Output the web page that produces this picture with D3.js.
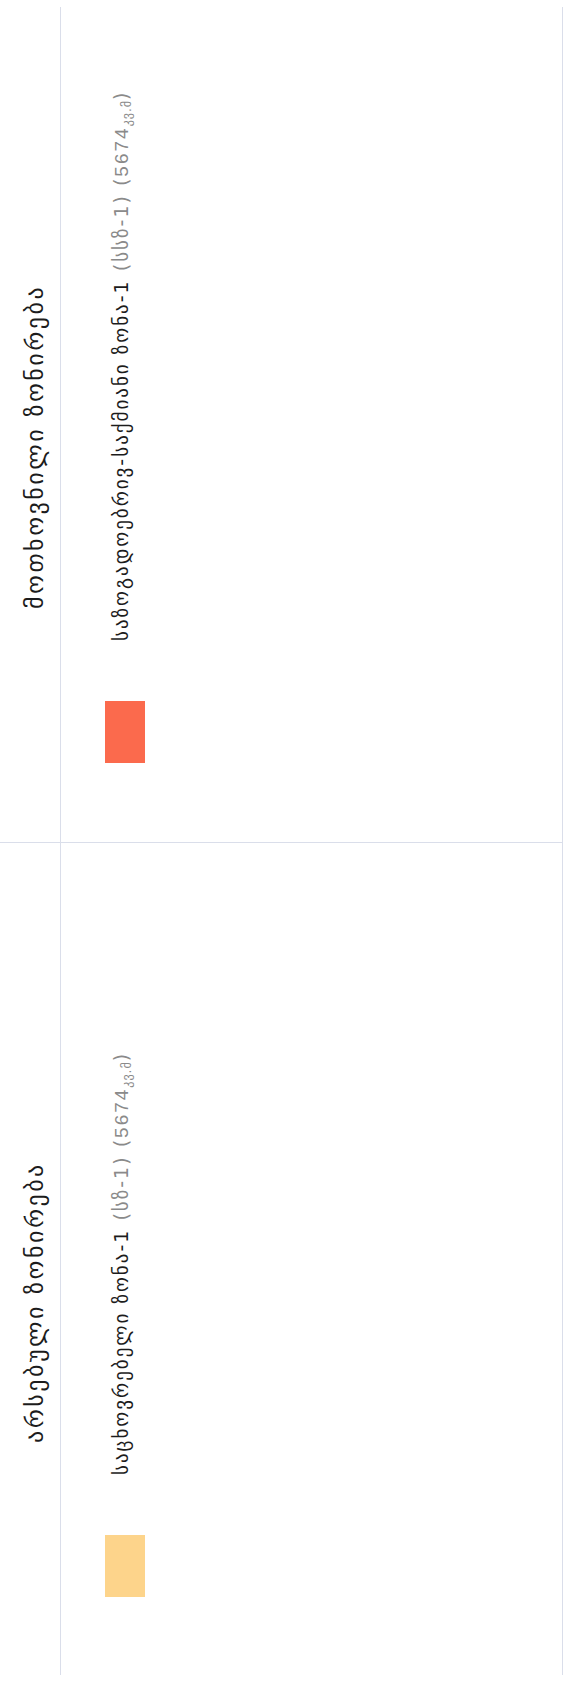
<!DOCTYPE html>
<meta charset="utf-8">
<head>
<script src="https://d3js.org/d3.v7.min.js"></script>
<style>
body { margin: 0; background: #fff; }
.grid { stroke: #dadeea; stroke-width: 1; shape-rendering: crispEdges; }
.head { font: 24px "DejaVu Sans", sans-serif; fill: #1c1c1c; letter-spacing: 2.5px; }
.lab { font: 19px "DejaVu Sans", sans-serif; fill: #1c1c1c; letter-spacing: 2px; }
.note { fill: #8a8a8a; }
.num { font-family: "Liberation Sans", sans-serif; }
</style>
</head>
<body>
<script>

// table content
var headers = ["არსებული ზონირება", "მოთხოვნილი ზონირება"];
var zoneNames = ["საცხოვრებელი ზონა-1", "საზოგადოებრივ-საქმიანი ზონა-1"];
var zoneCodes = ["სზ-1", "სსზ-1"];
var areas = [5674, 5674];
var unit = "კვ.მ";
var colors = ["#fdd48b", "#fb6a4d"];

var width = 568, height = 1681;

var svg = d3.select("body").append("svg")
    .attr("width", width)
    .attr("height", height);

// the sheet is printed on its side, draw it flat and turn it
var g = svg.append("g")
    .attr("transform", "translate(0," + height + ") rotate(-90)");

var col = d3.scaleBand()
    .domain(headers)
    .range([6, 1674]);

var color = d3.scaleOrdinal()
    .domain(headers)
    .range(colors);

var headRow = 60, tableEdge = 562;

// grid lines
g.append("line").attr("class", "grid")
    .attr("x1", col.range()[0]).attr("x2", col.range()[1])
    .attr("y1", headRow).attr("y2", headRow);
g.append("line").attr("class", "grid")
    .attr("x1", col.range()[0]).attr("x2", col.range()[1])
    .attr("y1", tableEdge).attr("y2", tableEdge);
g.append("line").attr("class", "grid")
    .attr("x1", col(headers[1]) - 1).attr("x2", col(headers[1]) - 1)
    .attr("y1", 0).attr("y2", tableEdge);

// header text
g.selectAll(".head")
    .data(headers)
  .enter().append("text")
    .attr("class", "head")
    .attr("x", function(d) { return col(d) + 232; })
    .attr("y", 43)
    .text(function(d) { return d; });

// legend swatches
g.selectAll(".swatch")
    .data(headers)
  .enter().append("rect")
    .attr("class", "swatch")
    .attr("x", function(d) { return col(d) + 78; })
    .attr("y", 105)
    .attr("width", 62)
    .attr("height", 40)
    .style("fill", function(d) { return color(d); });

// legend labels
var lab = g.selectAll(".lab")
    .data(headers)
  .enter().append("text")
    .attr("class", "lab")
    .attr("x", function(d) { return col(d) + 200; })
    .attr("y", 128);

lab.append("tspan")
    .text(function(d, i) { return zoneNames[i] + " "; });
lab.append("tspan")
    .attr("class", "note")
    .text(function(d, i) { return "(" + zoneCodes[i] + ") ("; });
lab.append("tspan")
    .attr("class", "note num")
    .text(function(d, i) { return areas[i]; });
lab.append("tspan")
    .attr("class", "note")
    .style("font-size", "12px")
    .style("letter-spacing", "1px")
    .attr("dy", 3)
    .text(unit);
lab.append("tspan")
    .attr("class", "note")
    .attr("dy", -3)
    .text(")");

</script>
</body>
